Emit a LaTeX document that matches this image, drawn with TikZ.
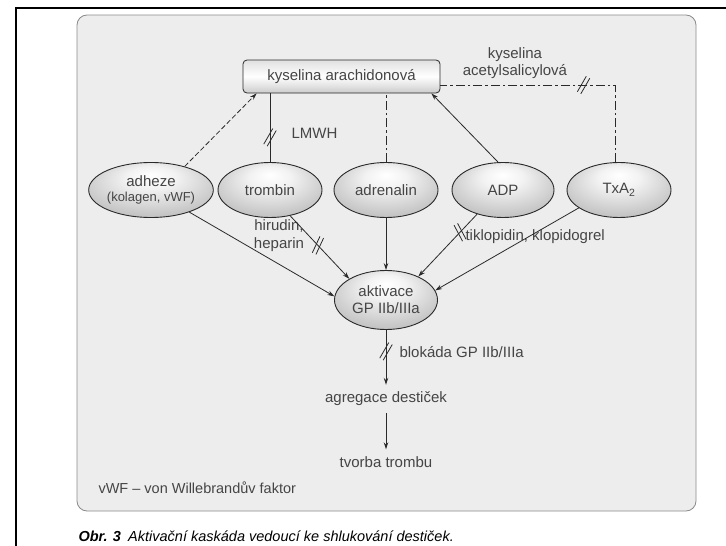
\documentclass[tikz,border=0pt]{standalone}
\usepackage{fontspec}
\setmainfont{Liberation Sans}
\usetikzlibrary{arrows.meta,shapes.geometric}
\definecolor{panelfill}{HTML}{EDEDED}
\definecolor{paneledge}{HTML}{8A8A8A}
\definecolor{txt}{HTML}{454545}
\definecolor{ln}{HTML}{2A2A2A}
\pgfdeclareradialshading{ellshade}{\pgfpoint{0bp}{14bp}}{%
  color(0bp)=(white); color(10bp)=(white!95!black); color(30bp)=(white!76!black); color(50bp)=(white!60!black)}
\begin{document}
\begin{tikzpicture}[x=1pt,y=-1pt,
  every node/.style={font=\fontsize{15}{17}\selectfont, text=txt},
  ell/.style={ellipse, draw=ln, line width=0.9pt, shade, shading=ellshade, minimum width=104pt, minimum height=55pt, inner sep=0pt},
  topbox/.style={rectangle, rounded corners=4pt, draw=ln, line width=0.8pt, top color=white!88!black, bottom color=white!80!black, middle color=white, minimum width=197pt, minimum height=33pt},
  conn/.style={draw=ln, line width=0.8pt},
  arr/.style={conn, -{Stealth[length=7pt,width=4.5pt]}},
  dashln/.style={dash pattern=on 5pt off 2.5pt},
  dashdot/.style={dash pattern=on 9pt off 3pt on 2.5pt off 3pt},
  txtnode/.style={inner sep=7pt},
  pics/hashm/.style={code={\draw[ln, line width=0.8pt, rotate=#1] (-9,-2)--(9,-2) (-9,2)--(9,2);}},
]
\useasboundingbox (0,0) rectangle (726,546);
% outer frame
\draw[black, line width=2pt] (16,546) -- (16,8) -- (726,8);
% panel
\filldraw[fill=panelfill, draw=paneledge, line width=0.8pt, rounded corners=10pt] (77,15) rectangle (696,511);

% nodes
\node[topbox] (kyar) at (341.5,76.5) {kyselina arachidonová};
\node[ell, minimum width=96pt, align=center] (adh) at (151,190) {adheze\\[-2pt]{\fontsize{13}{15}\selectfont(kolagen, vWF)}};
\node[ell] (trom) at (270,190) {trombin};
\node[ell] (adr) at (386,190) {adrenalin};
\node[ell, minimum width=102pt] (adp) at (503,190) {ADP};
\node[ell] (txa) at (619,190) {TxA\textsubscript{2}};
\node[ell, minimum width=103pt, minimum height=59pt, align=center] (akt) at (386,300) {aktivace\\GP IIb/IIIa};
\node[txtnode] (agr) at (386,399) {agregace destiček};
\node[txtnode] (tvb) at (386,462) {tvorba trombu};

% labels
\node[anchor=west] (lmwh) at (288,133) {LMWH};
\node[align=center] (ask) at (515,63) {kyselina\\acetylsalicylová};
\node[align=center, font=\fontsize{15}{18}\selectfont] (hep) at (279,236) {hirudin,\\heparin};
\node[anchor=west] (tik) at (462,237) {tiklopidin, klopidogrel};
\node[anchor=west] (blok) at (396,352) {blokáda GP IIb/IIIa};
\node[anchor=west, font=\fontsize{14.5}{17}\selectfont] (vwf) at (95,488) {vWF – von Willebrandův faktor};
\node[anchor=west, text=black, font=\fontsize{14.5}{17}\selectfont] (cap) at (75,536.5) {\textbf{\textit{Obr. 3}}\enspace\textit{Aktivační kaskáda vedoucí ke shlukování destiček.}};

% upper connectors
\draw[arr, dashln] (adh.35) -- ([xshift=14pt]kyar.south west);
\draw[conn] (trom.north) -- coordinate[pos=0.36] (h1) (trom.north |- kyar.south);
\draw[conn, dashdot] (adr.north) -- (adr.north |- kyar.south);
\draw[arr] (adp.100) -- ([xshift=-9pt]kyar.south east);
\draw[conn, dashdot] ([xshift=-4pt]txa.north) |- coordinate[pos=0.59] (h2) ([yshift=-8.5pt]kyar.east);

% lower connectors
\draw[arr] (adh.-30) -- (akt.176);
\draw[arr] (trom.-52) -- coordinate[pos=0.47] (h3) (akt.150);
\draw[arr] (adr.south) -- (akt.north);
\draw[arr] (adp.223) -- coordinate[pos=0.29] (h4) (akt.36);
\draw[arr] (txa.204) -- (akt.11);
\draw[arr] (akt.south) -- coordinate[pos=0.39] (h5) (agr.north);
\draw[arr] (agr.south) -- (tvb.north);

% block marks
\path (h1) pic{hashm=60};
\path (h2) pic{hashm=60};
\path (h3) pic{hashm=65};
\path (h4) pic{hashm=118};
\path (h5) pic{hashm=60};
\end{tikzpicture}
\end{document}
